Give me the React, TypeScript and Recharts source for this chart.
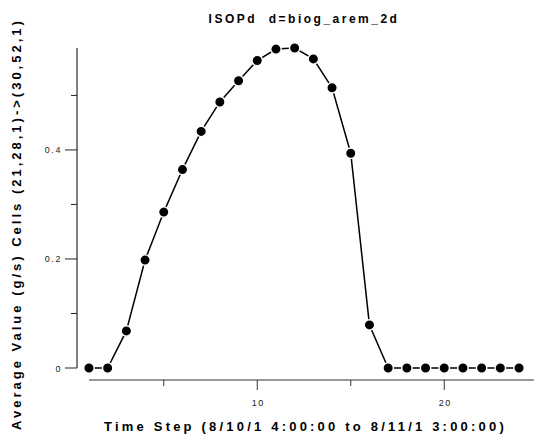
import React from 'react';
import { LineChart, Line, XAxis, YAxis, ReferenceLine } from 'recharts';

// time steps (hours) and the averaged ISOPd values
const timeSteps = [1, 2, 3, 4, 5, 6, 7, 8, 9, 10, 11, 12, 13, 14, 15, 16, 17, 18, 19, 20, 21, 22, 23, 24];
const isopdValues = [
  0, 0, 0.068, 0.198, 0.286, 0.364, 0.434, 0.488, 0.527, 0.564, 0.585, 0.587,
  0.567, 0.514, 0.394, 0.079, 0, 0, 0, 0, 0, 0, 0, 0,
];

const yTicks = [0, 0.1, 0.2, 0.3, 0.4, 0.5];
const yLabelTicks = [0, 0.2, 0.4];
const xTicks = [5, 10, 15, 20];
const xLabelTicks = [10, 20];

const chartTitle = 'ISOPd  d=biog_arem_2d';
const xTitle = 'Time Step (8/10/1 4:00:00 to 8/11/1 3:00:00)';
const yTitle = 'Average Value (g/s) Cells (21,28,1)->(30,52,1)';

const data = timeSteps.map((step, i) => ({ step, value: isopdValues[i] }));

const font = '"Liberation Sans", Arial, Helvetica, sans-serif';
const xDomain: [number, number] = [0.36, 24.8];
const yBottom = -0.022;
const yTop = Math.max(...isopdValues);

const YTick = ({ x, y, payload }: any) => {
  const major = yLabelTicks.includes(payload.value);
  const len = major ? 12 : 6;
  return (
    <g>
      <line x1={x} x2={x - len} y1={y} y2={y} stroke="#222" strokeWidth={1} />
      {major && (
        <text
          x={x - len - 3}
          y={y}
          dy={3.5}
          textAnchor="end"
          fontFamily={font}
          fontSize={9}
          letterSpacing={1.6}
          fill="#222"
        >
          {payload.value}
        </text>
      )}
    </g>
  );
};

const XTick = ({ x, y, payload }: any) => {
  const major = xLabelTicks.includes(payload.value);
  const len = major ? 10 : 6;
  return (
    <g>
      <line x1={x} x2={x} y1={y} y2={y + len} stroke="#333" strokeWidth={1} />
      {major && (
        <text
          x={x + 1}
          y={y + 26}
          textAnchor="middle"
          fontFamily={font}
          fontSize={9}
          letterSpacing={1.6}
          fill="#222"
        >
          {payload.value}
        </text>
      )}
    </g>
  );
};

const renderXTitle = (props: any) => {
  const vb = props.viewBox;
  return (
    <text
      x={vb.x + vb.width / 2}
      y={vb.y + 51}
      textAnchor="middle"
      fontFamily={font}
      fontWeight="bold"
      fontSize={13}
      letterSpacing={3.2}
      fill="#000"
    >
      {xTitle}
    </text>
  );
};

const renderYTitle = () => (
  <text
    transform="translate(21, 224) rotate(-90)"
    textAnchor="middle"
    fontFamily={font}
    fontWeight="bold"
    fontSize={13}
    letterSpacing={3}
    fill="#000"
  >
    {yTitle}
  </text>
);

export default function App() {
  return (
    <div style={{ position: 'absolute', left: 0, top: 0, width: 534, height: 439, background: '#fff' }}>
      <div
        style={{
          position: 'absolute',
          left: 0,
          top: 12,
          width: 608,
          textAlign: 'center',
          fontFamily: font,
          fontWeight: 'bold',
          fontSize: 12,
          letterSpacing: 2.5,
          whiteSpace: 'pre',
        }}
      >
        {chartTitle}
      </div>
      <LineChart width={534} height={439} data={data} margin={{ top: 48, right: 0, bottom: 0, left: 0 }}>
        <XAxis
          dataKey="step"
          type="number"
          domain={xDomain}
          ticks={xTicks}
          axisLine={false}
          tickLine={false}
          tickSize={0}
          tickMargin={0}
          height={59}
          tick={<XTick />}
          label={renderXTitle}
        />
        <YAxis
          type="number"
          domain={[yBottom, 'dataMax']}
          ticks={yTicks}
          axisLine={false}
          tickLine={false}
          tickSize={0}
          tickMargin={0}
          width={77}
          tick={<YTick />}
          label={renderYTitle}
        />
        <ReferenceLine
          segment={[{ x: xDomain[0], y: 0 }, { x: xDomain[0], y: yTop }]}
          stroke="#000"
          strokeWidth={1}
          ifOverflow="visible"
        />
        <ReferenceLine
          segment={[{ x: timeSteps[0], y: yBottom }, { x: xDomain[1], y: yBottom }]}
          stroke="#999"
          strokeWidth={2}
          ifOverflow="visible"
        />
        <Line
          type="linear"
          dataKey="value"
          stroke="#000"
          strokeWidth={1.5}
          dot={{ r: 5.2, fill: '#000', stroke: '#fff', strokeWidth: 1.4 }}
          activeDot={false}
          isAnimationActive={false}
        />
      </LineChart>
    </div>
  );
}
